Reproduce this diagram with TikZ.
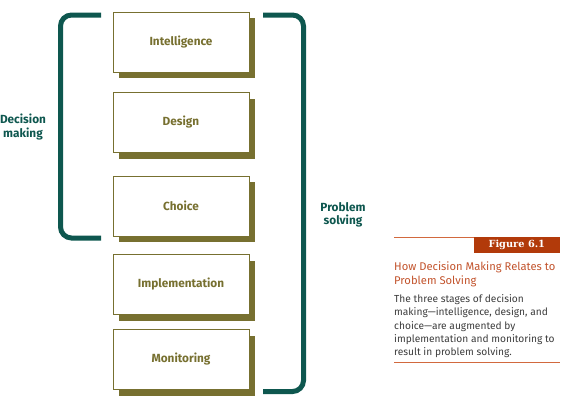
\documentclass[tikz,border=0pt]{standalone}
\usepackage{fontspec}
\setmainfont{Fira Sans}
\newfontfamily\figfont{DejaVu Serif}
\usetikzlibrary{positioning,shadows}

\definecolor{teal}{HTML}{0E574F}
\definecolor{olivebox}{HTML}{777030}
\definecolor{figred}{HTML}{B23A0A}
\definecolor{titlered}{HTML}{C2532C}
\definecolor{rulered}{HTML}{D2693E}
\definecolor{bodygray}{HTML}{3C3C3C}

\tikzset{
  stagebox/.style={draw=olivebox, line width=0.9pt, fill=white,
    minimum width=136pt, minimum height=60pt,
    font=\fontsize{11.8}{13}\selectfont\bfseries, text=olivebox,
    drop shadow={shadow xshift=6pt, shadow yshift=-6pt, fill=olivebox, opacity=1}},
  bracket/.style={draw=teal, line width=5pt, rounded corners=11pt},
  sidelabel/.style={font=\fontsize{11.8}{13.5}\selectfont\bfseries, text=teal, align=center}
}

\begin{document}
\begin{tikzpicture}[x=1pt,y=-1pt]
\useasboundingbox (0,0) rectangle (563,400);

% The five stages
\node [stagebox] (intel)  at (181,42)    {Intelligence};
\node [stagebox] (design) at (181,122.5) {Design};
\node [stagebox] (choice) at (181,206)   {Choice};
\node [stagebox] (impl)   at (181,284.5) {Implementation};
\node [stagebox] (monit)  at (181,359.5) {Monitoring};

% Brackets round decision making and problem solving
\draw [bracket] (101,15) -- (60.5,15) -- (60.5,238) -- (101,238);
\draw [bracket] (263,15) -- (303.5,15) -- (303.5,391.5) -- (263,391.5);

\node [sidelabel] (decision) at (23,127)  {Decision\\making};
\node [sidelabel] (problem)  at (343,215) {Problem\\solving};

% Caption
\draw [rulered, line width=0.8pt] (394,237) -- (560,237);
\node [fill=figred, text=white, minimum width=86pt, minimum height=16pt,
  inner sep=0pt, anchor=north east, font=\figfont\fontsize{9.8}{11}\selectfont\bfseries]
  (figlab) at (560,237) {Figure 6.1};
\node [anchor=north west, inner sep=0pt, align=left, text=titlered,
  font=\fontsize{11.2}{13.5}\selectfont] (title) at (394,262)
  {How Decision Making Relates to\\Problem Solving};
\node [anchor=north west, inner sep=0pt, align=left, text=bodygray,
  font=\fontsize{10.2}{13.3}\selectfont] (body) at (394,294.5)
  {The three stages of decision\\making---intelligence, design, and\\choice---are augmented by\\implementation and monitoring to\\result in problem solving.};
\draw [rulered, line width=0.8pt] (394,362) -- (560,362);

\end{tikzpicture}
\end{document}
